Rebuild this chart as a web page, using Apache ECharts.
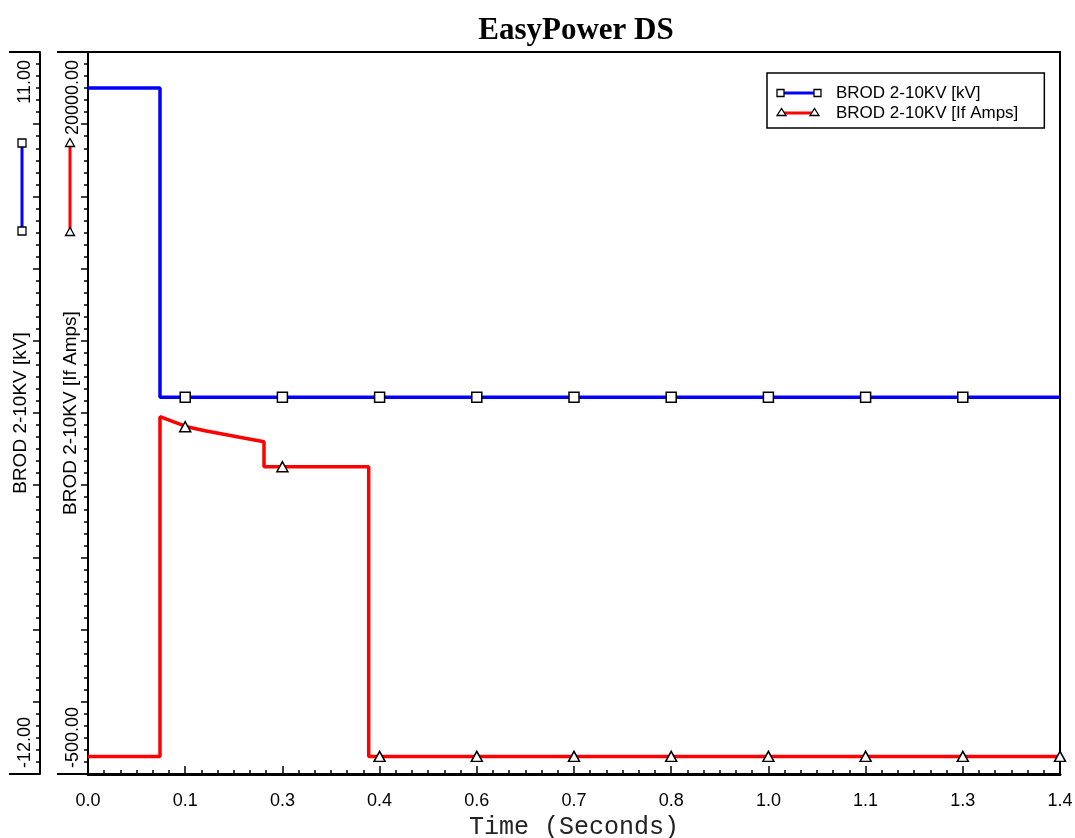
<!DOCTYPE html>
<html>
<head>
<meta charset="utf-8">
<title>EasyPower DS</title>
<script src="https://cdn.jsdelivr.net/npm/echarts@6/dist/echarts.min.js"></script>
<style>
  html, body { margin: 0; padding: 0; background: #fff; }
  #chart { width: 1075px; height: 838px; }
</style>
</head>
<body>
<div id="chart"></div>
<script>
// axis ranges
var timeRange = [0, 1.4];
var timeStep = 0.14;
var kvRange = [-12, 11];
var ampRange = [-500, 20000];

var seriesNames = ['BROD 2-10KV [kV]', 'BROD 2-10KV [If Amps]'];

// BROD 2-10KV voltage (kV)
var kvTime  = [0, 0.1037, 0.1037, 1.4];
var kvValue = [9.85, 9.85, 0, 0];

// BROD 2-10KV fault current (A)
var ampTime  = [0, 0.1037, 0.1037, 0.1224, 0.1422, 0.1685, 0.1973, 0.2261, 0.2535, 0.2535, 0.4043, 0.4043, 1.4];
var ampValue = [0, 0, 9645, 9508, 9361, 9245, 9139, 9031, 8935, 8225, 8225, 0, 0];

// curve markers
var kvMarkTime  = [0.14, 0.28, 0.42, 0.56, 0.70, 0.84, 0.98, 1.12, 1.26];
var kvMarkValue = [0, 0, 0, 0, 0, 0, 0, 0, 0];
var ampMarkTime  = [0.14, 0.28, 0.42, 0.56, 0.70, 0.84, 0.98, 1.12, 1.26, 1.4];
var ampMarkValue = [9361, 8225, 0, 0, 0, 0, 0, 0, 0, 0];

function zip(xs, ys) {
    return xs.map(function (x, i) { return [x, ys[i]]; });
}

var SANS = 'Liberation Sans, Arial, sans-serif';
var black = '#000';

// left value axes: one carries the data + end labels, one the ticks, one the end caps
function dataAxis(range, offset, name, nameGap, margin) {
    return {
        type: 'value', position: 'left', offset: offset,
        min: range[0], max: range[1],
        axisLine: { show: true, onZero: false, lineStyle: { color: black, width: 2 } },
        axisTick: { show: false },
        splitLine: { show: false },
        axisLabel: {
            rotate: 90, margin: margin, color: black,
            fontFamily: SANS, fontSize: 18,
            padding: [0, 8, 0, 6],
            alignMinLabel: 'left', alignMaxLabel: 'right',
            formatter: function (v) {
                return (v === range[0] || v === range[1]) ? v.toFixed(2) : '';
            }
        },
        name: name, nameLocation: 'middle', nameGap: nameGap, nameMoveOverlap: false,
        nameTextStyle: { color: black, fontFamily: SANS, fontSize: 19 }
    };
}
function tickAxis(offset) {
    return {
        type: 'value', position: 'left', offset: offset,
        min: 0, max: 10, interval: 1,
        axisLine: { show: false, onZero: false },
        axisLabel: { show: false },
        splitLine: { show: false },
        axisTick: { show: true, length: 7, lineStyle: { color: black, width: 1.5 } },
        minorTick: { show: true, splitNumber: 6, length: 4, lineStyle: { color: black, width: 1.5 } }
    };
}
function capAxis(offset) {
    return {
        type: 'value', position: 'left', offset: offset,
        min: 0, max: 1, interval: 1,
        axisLine: { show: false, onZero: false },
        axisLabel: { show: false },
        splitLine: { show: false },
        axisTick: { show: true, length: 31, lineStyle: { color: black, width: 2 } }
    };
}

var chart = echarts.init(document.getElementById('chart'));

var option = {
    animation: false,
    backgroundColor: '#fff',
    title: {
        text: 'EasyPower DS',
        left: 571, top: 10, textAlign: 'center',
        textStyle: { fontFamily: 'Liberation Serif, Times New Roman, serif', fontWeight: 'bold', fontSize: 31, color: black }
    },
    legend: {
        data: seriesNames,
        orient: 'vertical',
        left: 767, top: 73,
        padding: [11.5, 26, 6.5, 10],
        borderColor: black, borderWidth: 1.5,
        itemWidth: 46, itemHeight: 17, itemGap: 3,
        icon: 'rect',
        itemStyle: { color: 'rgba(0,0,0,0)', borderWidth: 0 },
        selectedMode: false,
        textStyle: { fontFamily: SANS, fontSize: 17, lineHeight: 17, color: black, padding: [0, 0, 0, 8] }
    },
    grid: {
        left: 88, right: 15, top: 52, bottom: 64,
        outerBoundsMode: 'none', containLabel: false,
        show: true, borderColor: black, borderWidth: 2
    },
    xAxis: {
        type: 'value',
        min: timeRange[0], max: timeRange[1], interval: timeStep,
        axisLine: { onZero: false, lineStyle: { color: black, width: 3 } },
        axisTick: { inside: true, length: 8, lineStyle: { color: black, width: 1.5 } },
        minorTick: { show: true, splitNumber: 6, length: 4, lineStyle: { color: black, width: 1.5 } },
        splitLine: { show: false },
        axisLabel: {
            margin: 18, color: black, fontFamily: SANS, fontSize: 18,
            formatter: function (v) { return v.toFixed(1); }
        },
        name: 'Time (Seconds)', nameLocation: 'middle', nameGap: 40,
        nameTextStyle: { fontFamily: 'Liberation Mono, Courier New, monospace', fontSize: 25, color: '#222' }
    },
    yAxis: [
        dataAxis(kvRange, 48, seriesNames[0], 10, 6),
        dataAxis(ampRange, 0, seriesNames[1], 8, 6),
        tickAxis(48),
        tickAxis(0),
        capAxis(48),
        capAxis(0)
    ],
    series: [
        {
            name: seriesNames[0], type: 'line', yAxisIndex: 0,
            data: zip(kvTime, kvValue),
            symbol: 'none', color: '#0000ff',
            lineStyle: { color: '#0000ff', width: 3.5 }, z: 2
        },
        {
            name: seriesNames[1], type: 'line', yAxisIndex: 1,
            data: zip(ampTime, ampValue),
            symbol: 'none', color: '#ff0000',
            lineStyle: { color: '#ff0000', width: 3.5 }, z: 2
        },
        {
            name: 'kV marks', type: 'scatter', yAxisIndex: 0,
            data: zip(kvMarkTime, kvMarkValue),
            symbol: 'rect', symbolSize: 10,
            itemStyle: { color: '#fff', opacity: 1, borderColor: black, borderWidth: 1.5 }, z: 3
        },
        {
            name: 'amp marks', type: 'scatter', yAxisIndex: 1,
            data: zip(ampMarkTime, ampMarkValue),
            symbol: 'triangle', symbolSize: [11, 10],
            itemStyle: { color: '#fff', opacity: 1, borderColor: black, borderWidth: 1.5 }, z: 3
        }
    ],
    graphic: [
        // legend swatches inside the box
        { type: 'line', shape: { x1: 778, y1: 93, x2: 820, y2: 93 }, style: { stroke: '#0000ff', lineWidth: 3 }, z: 10 },
        { type: 'rect', shape: { x: 777, y: 89.5, width: 7, height: 7 }, style: { fill: '#fff', stroke: black, lineWidth: 1.3 }, z: 11 },
        { type: 'rect', shape: { x: 814, y: 89.5, width: 7, height: 7 }, style: { fill: '#fff', stroke: black, lineWidth: 1.3 }, z: 11 },
        { type: 'line', shape: { x1: 779, y1: 113, x2: 817, y2: 113 }, style: { stroke: '#ff0000', lineWidth: 3 }, z: 10 },
        { type: 'polygon', shape: { points: [[781.5, 108.5], [777, 115.5], [786, 115.5]] }, style: { fill: '#fff', stroke: black, lineWidth: 1.3 }, z: 11 },
        { type: 'polygon', shape: { points: [[814.5, 108.5], [810, 115.5], [819, 115.5]] }, style: { fill: '#fff', stroke: black, lineWidth: 1.3 }, z: 11 },
        // axis swatches at the left
        { type: 'line', shape: { x1: 22, y1: 143, x2: 22, y2: 231 }, style: { stroke: '#0000ff', lineWidth: 3 }, z: 10 },
        { type: 'rect', shape: { x: 18, y: 139, width: 8, height: 8 }, style: { fill: '#fff', stroke: black, lineWidth: 1.3 }, z: 11 },
        { type: 'rect', shape: { x: 18, y: 227, width: 8, height: 8 }, style: { fill: '#fff', stroke: black, lineWidth: 1.3 }, z: 11 },
        { type: 'line', shape: { x1: 70, y1: 143, x2: 70, y2: 232 }, style: { stroke: '#ff0000', lineWidth: 3 }, z: 10 },
        { type: 'polygon', shape: { points: [[70, 138.5], [65.5, 146.5], [74.5, 146.5]] }, style: { fill: '#fff', stroke: black, lineWidth: 1.3 }, z: 11 },
        { type: 'polygon', shape: { points: [[70, 227.5], [65.5, 235.5], [74.5, 235.5]] }, style: { fill: '#fff', stroke: black, lineWidth: 1.3 }, z: 11 }
    ]
};

chart.setOption(option);
</script>
</body>
</html>
